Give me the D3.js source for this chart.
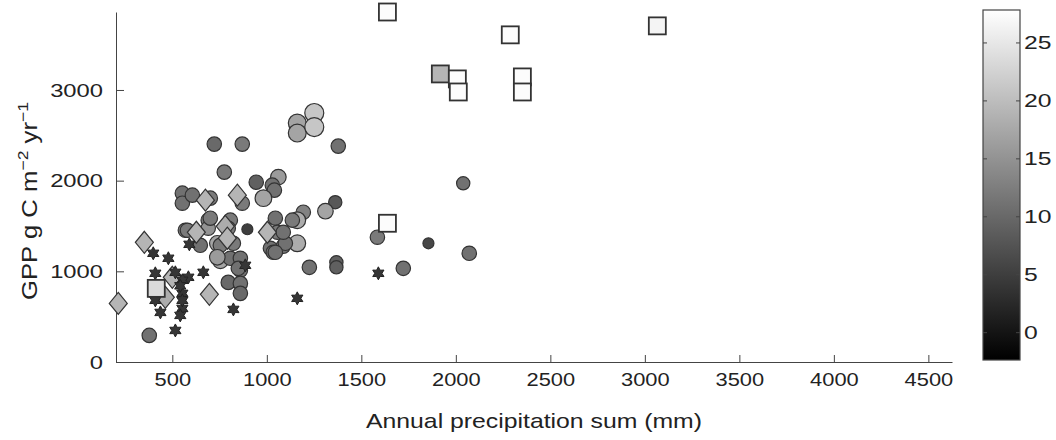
<!DOCTYPE html>
<html lang="en">
<head>
    <meta charset="UTF-8">
    <title>GPP vs annual precipitation</title>
    <script src="https://d3js.org/d3.v7.min.js"></script>
    <style>
        body { margin: 0; background: #fff; }
        svg text { font-family: "Liberation Sans", Arial, sans-serif; fill: #222; }
        .axis path, .axis line { stroke: #444; }
    </style>
</head>
<body>
<div id="chart"></div>
<script>
    // circles: precipitation (mm), GPP (g C m-2 yr-1), temperature (colour), record length (size)
    var circlePrecip = [553, 553, 606, 569, 690, 648, 690, 722, 870, 775, 701, 870, 897, 701, 807, 796, 738, 823, 754, 807,
                        860, 860, 796, 860, 860, 378, 944, 1061, 1029, 1040, 982, 1045, 1193, 1161, 1056, 1019, 1087, 1161, 1161, 1161,
                        1251, 1251, 1378, 1362, 1310, 1098, 1034, 1225, 1368, 1368, 1585, 2039, 1855, 2071, 1722, 580, 754, 849, 1045, 1135,
                        1087, 738];
    var circleGPP = [1862, 1751, 1840, 1453, 1564, 1287, 1475, 2403, 2403, 2094, 1807, 1751, 1464, 1586, 1564, 1475, 1309, 1309, 1116, 1144,
                     1144, 1011, 878, 867, 757, 293, 1983, 2039, 1950, 1895, 1807, 1586, 1652, 1564, 1431, 1254, 1276, 1309, 2635, 2525,
                     2746, 2591, 2381, 1762, 1663, 1309, 1210, 1044, 1100, 1044, 1376, 1971, 1309, 1199, 1033, 1453, 1287, 1033, 1210, 1564,
                     1431, 1155];
    var circleTemp = [11, 11, 11, 12, 12, 11, 15, 10, 12, 12, 12, 12, 5, 12, 12, 12, 17, 12, 17, 11,
                      11, 11, 10, 11, 10, 11, 9, 16, 11, 11, 17, 11, 13, 18, 12, 11, 11, 18, 17, 17,
                      21, 21, 11, 8, 17, 11, 11, 11, 9, 9, 12, 11, 6, 11, 11, 12, 12, 11, 11, 12,
                      11, 16];
    var circleYears = [5, 5, 5, 5, 5, 5, 5, 5, 5, 5, 5, 5, 2, 5, 5, 5, 6, 5, 6, 5,
                       5, 5, 5, 5, 5, 5, 5, 6, 5, 5, 7, 5, 5, 7, 5, 5, 5, 7, 8, 8,
                       9, 9, 5, 4, 6, 5, 5, 5, 4, 4, 5, 4, 2, 5, 5, 5, 5, 5, 5, 5,
                       5, 6];

    // diamonds
    var diamondPrecip = [214, 352, 500, 463, 696, 675, 844, 627, 780, 791, 1003];
    var diamondGPP = [646, 1320, 934, 713, 746, 1785, 1840, 1431, 1497, 1365, 1431];
    var diamondTemp = [19, 19, 19, 18, 19, 19, 19, 19, 18, 19, 19];

    // hexagrams
    var starPrecip = [399, 479, 410, 516, 585, 553, 664, 553, 553, 542, 437, 410, 516, 823, 590, 886, 1161, 1590, 553, 542];
    var starGPP = [1199, 1144, 978, 989, 934, 901, 989, 757, 591, 514, 547, 680, 348, 580, 1298, 1066, 702, 978, 680, 840];
    var starTemp = [4, 4, 4, 4, 4, 4, 4, 4, 4, 4, 4, 4, 4, 4, 4, 4, 4, 4, 4, 4];

    // squares
    var squarePrecip = [1638, 2288, 3066, 1918, 2008, 2013, 2352, 2352, 1638, 415];
    var squareGPP = [3860, 3608, 3707, 3177, 3122, 2978, 3144, 2978, 1530, 812];
    var squareTemp = [27.5, 27.5, 26.5, 19, 27.5, 27.5, 27.5, 27.5, 27.5, 23.5];

    var xTicks = [500, 1000, 1500, 2000, 2500, 3000, 3500, 4000, 4500];
    var yTicks = [0, 1000, 2000, 3000];
    var cTicks = [0, 5, 10, 15, 20, 25];

    var width = 1056, height = 440;
    var plot = { left: 116, right: 952, top: 12, bottom: 362 };

    var svg = d3.select("#chart").append("svg")
        .attr("width", width)
        .attr("height", height);

    var x = d3.scaleLinear().domain([202, 4625]).range([plot.left, plot.right]);
    var y = d3.scaleLinear().domain([0, 3860]).range([plot.bottom, plot.top]);
    var color = d3.scaleLinear().domain([-2.4, 27.8]).range(["#000000", "#ffffff"]);
    var radius = d3.scaleLinear().domain([2, 9]).range([5.5, 9.5]);

    function zip(px, py, pt, extra) {
        return px.map(function(d, i) {
            return { p: d, g: py[i], t: pt[i], n: extra ? extra[i] : null };
        });
    }

    // the original lettering is a bit wider than Liberation Sans
    function widen(sel, k) {
        sel.each(function() {
            var w = this.getComputedTextLength();
            d3.select(this).attr("textLength", w * k).attr("lengthAdjust", "spacingAndGlyphs");
        });
    }

    // axes
    svg.append("g")
        .attr("class", "axis")
        .attr("transform", "translate(0," + plot.bottom + ")")
        .call(d3.axisBottom(x).tickValues(xTicks).tickSizeInner(-7).tickSizeOuter(0).tickPadding(11).tickFormat(d3.format("d")))
        .call(g => g.selectAll("text").style("font-size", "19px").call(widen, 1.15));

    svg.append("g")
        .attr("class", "axis")
        .attr("transform", "translate(" + plot.left + ",0)")
        .call(d3.axisLeft(y).tickValues(yTicks).tickSizeInner(-8).tickSizeOuter(0).tickPadding(13).tickFormat(d3.format("d")))
        .call(g => g.selectAll("text").style("font-size", "19px").call(widen, 1.25));

    // markers
    var g = svg.append("g");

    g.selectAll(".dot")
        .data(zip(circlePrecip, circleGPP, circleTemp, circleYears))
        .enter().append("circle")
        .attr("class", "dot")
        .attr("cx", d => x(d.p))
        .attr("cy", d => y(d.g))
        .attr("r", d => radius(d.n))
        .attr("fill", d => color(d.t))
        .attr("stroke", "#333")
        .attr("stroke-width", 1.2);

    g.selectAll(".diamond")
        .data(zip(diamondPrecip, diamondGPP, diamondTemp))
        .enter().append("path")
        .attr("class", "diamond")
        .attr("d", "M0,-11L9,0L0,11L-9,0Z")
        .attr("transform", d => "translate(" + x(d.p) + "," + y(d.g) + ")")
        .attr("fill", d => color(d.t))
        .attr("stroke", "#333")
        .attr("stroke-width", 1.2);

    var hexagram = d3.range(12).map(function(i) {
        var a = -Math.PI / 2 + i * Math.PI / 6;
        var r = i % 2 === 0 ? 6.5 : 3.6;
        return [r * Math.cos(a), r * Math.sin(a)];
    });

    g.selectAll(".star")
        .data(zip(starPrecip, starGPP, starTemp))
        .enter().append("path")
        .attr("class", "star")
        .attr("d", d3.line()(hexagram) + "Z")
        .attr("transform", d => "translate(" + x(d.p) + "," + y(d.g) + ")")
        .attr("fill", d => color(d.t))
        .attr("stroke", "#222")
        .attr("stroke-width", 1);

    g.selectAll(".square")
        .data(zip(squarePrecip, squareGPP, squareTemp))
        .enter().append("rect")
        .attr("class", "square")
        .attr("x", d => x(d.p) - 8.5)
        .attr("y", d => y(d.g) - 8.5)
        .attr("width", 17)
        .attr("height", 17)
        .attr("fill", d => color(d.t))
        .attr("stroke", "#333")
        .attr("stroke-width", 1.8);

    // axis titles
    svg.append("text")
        .attr("x", (plot.left + plot.right) / 2)
        .attr("y", 428)
        .attr("text-anchor", "middle")
        .attr("textLength", 336)
        .attr("lengthAdjust", "spacingAndGlyphs")
        .style("font-size", "21px")
        .text("Annual precipitation sum (mm)");

    var yl = svg.append("text")
        .attr("transform", "translate(37,201) rotate(-90)")
        .attr("text-anchor", "middle")
        .attr("textLength", 198)
        .attr("lengthAdjust", "spacingAndGlyphs")
        .style("font-size", "22px");
    yl.append("tspan").text("GPP g C m");
    yl.append("tspan").attr("dy", -9).style("font-size", "15px").text("\u22122");
    yl.append("tspan").attr("dy", 9).text(" yr");
    yl.append("tspan").attr("dy", -9).style("font-size", "15px").text("\u22121");

    // colour bar
    var cb = { x: 983, y: 10, w: 37, h: 350 };
    var cy = d3.scaleLinear().domain(color.domain()).range([cb.y + cb.h, cb.y]);

    var grad = svg.append("defs").append("linearGradient")
        .attr("id", "cbgrad")
        .attr("x1", 0).attr("y1", 1).attr("x2", 0).attr("y2", 0);
    grad.append("stop").attr("offset", "0%").attr("stop-color", color.range()[0]);
    grad.append("stop").attr("offset", "100%").attr("stop-color", color.range()[1]);

    svg.append("rect")
        .attr("x", cb.x).attr("y", cb.y)
        .attr("width", cb.w).attr("height", cb.h)
        .attr("fill", "url(#cbgrad)")
        .attr("stroke", "#444")
        .attr("stroke-width", 1.2);

    svg.append("g")
        .attr("class", "axis")
        .attr("transform", "translate(" + (cb.x + cb.w) + ",0)")
        .call(d3.axisRight(cy).tickValues(cTicks).tickSizeInner(-4).tickSizeOuter(0).tickPadding(4))
        .call(g => g.select(".domain").remove())
        .call(g => g.selectAll("text").style("font-size", "19px").call(widen, 1.3));

    svg.append("g")
        .attr("class", "axis")
        .attr("transform", "translate(" + cb.x + ",0)")
        .call(d3.axisLeft(cy).tickValues(cTicks).tickSizeInner(-4).tickSizeOuter(0).tickFormat(""))
        .call(g => g.select(".domain").remove());
</script>
</body>
</html>
